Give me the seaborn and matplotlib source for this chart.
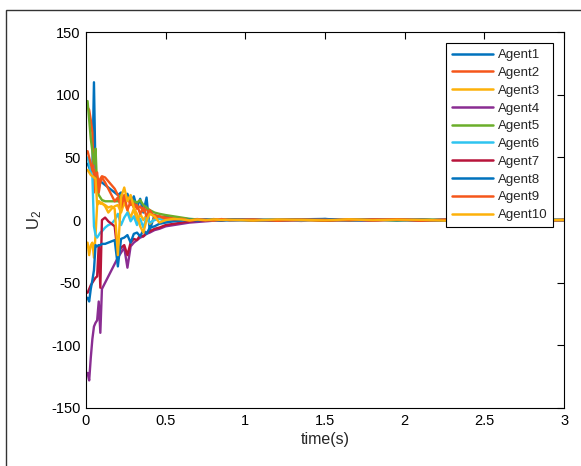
import matplotlib
matplotlib.use("Agg")
import matplotlib.pyplot as plt
from matplotlib.patches import Rectangle
import numpy as np
import pandas as pd
import seaborn as sns

# ---------------- data ----------------
t_early = [0.01, 0.02, 0.03, 0.04, 0.05, 0.06, 0.07, 0.08, 0.09, 0.10,
           0.12, 0.14, 0.16, 0.18, 0.20, 0.22, 0.24, 0.26, 0.28, 0.30,
           0.32, 0.34, 0.36, 0.38, 0.40, 0.43, 0.46, 0.50, 0.55, 0.60,
           0.65, 0.70, 0.75, 0.80, 0.85]
t_tail = [0.9, 1.05, 1.2, 1.35, 1.5, 1.65, 1.8, 1.95, 2.1, 2.25, 2.4, 2.55, 2.7, 2.85, 3.0]

agent1 = [45, 42, 38, 40, 110, 35, 33, 32, 31, 30,
          28, 26, 24, 22, 20, 22, 15, 21, 13, 19,
          10, 17, 6, 18, -8, 4, 2, 3, 1, 1.5,
          0.5, 0.8, 0.2, -0.3, 0.4,
          0.3, -0.5, 0.6, -0.2, 0.8, -0.4, 0.2, 0.5, -0.6, 0.3, -0.2, 0.4, -0.5, 0.2, 0.1]
agent2 = [90, 88, 80, 70, 22, 40, 35, 30, 33, 35,
          34, 31, 28, 25, 20, 17, 14, 18, 12, 14,
          9, 11, 7, 9, 5, 4, 3, 2, 1.5, 1,
          0.6, 0.3, -0.5, 0.8, 0.2,
          -0.4, 0.6, 0.2, -0.7, 0.5, 0.3, -0.3, 0.7, 0.1, -0.5, 0.4, 0.6, -0.2, 0.3, -0.1]
agent3 = [-18, -28, -20, -18, -30, -12, 12, 15, 13, 14,
          11, 6, 9, 11, 12, 6, 14, 8, 2, 9,
          -2, 5, 0, 4, -3, 1, 2, -1, 0.5, 0,
          0.4, -0.6, 0.3, 0.5, -0.2,
          0.2, 0.5, -0.4, 0.3, -0.6, 0.4, 0.1, -0.3, 0.5, 0.2, -0.4, 0.3, 0.6, -0.2, 0.2]
agent4 = [-122, -128, -110, -95, -85, -82, -80, -65, -90, -55,
          -50, -45, -40, -35, -30, -26, -22, -38, -21, -18,
          -16, -14, -13, -11, -10, -8, -7, -5, -4, -3,
          -2, -1.5, -1, -0.5, 0.2,
          -0.3, 0.4, -0.5, 0.2, 0.6, -0.2, -0.4, 0.3, 0.5, -0.6, 0.2, -0.3, 0.4, 0.1, -0.2]
agent5 = [95, 80, 65, 55, 45, 57, 25, 20, 18, 16,
          15, 15, 15, 15, 15, 20, 18, 16, 17, 15,
          14, 16, 12, 10, 8, 6, 5, 4, 3, 2,
          1, 0.5, 0.2, 0.1, -0.2,
          0.5, -0.2, 0.3, 0.6, -0.4, 0.2, 0.5, -0.3, 0.2, 0.4, -0.5, 0.3, 0.2, -0.4, 0.1]
agent6 = [50, 45, 38, 35, -5, -12, -14, -12, -10, -9,
          -6, -4, -3, 0, 5, -4, 2, 6, -1, 3,
          -4, 1, -6, 2, -2, 0, 1, -1, 0.3, 0.5,
          -0.3, 0.2, 0.4, -0.2, 0.1,
          -0.5, 0.3, 0.5, -0.2, 0.4, -0.6, 0.3, 0.2, -0.4, 0.6, -0.1, 0.5, -0.3, 0.4, 0.2]
agent7 = [-58, -55, -52, -50, -48, -46, -45, -20, -54, 0,
          2, -1, -3, -5, -28, -22, -20, -28, -18, -15,
          -16, -12, -13, -10, -9, -7, -6, -4, -3, -2,
          -1, -0.5, -0.3, 0.2, -0.4,
          0.6, -0.3, 0.2, 0.5, -0.5, 0.3, -0.2, 0.7, -0.4, 0.2, 0.5, -0.3, 0.6, -0.2, 0.1]
agent8 = [-62, -65, -55, -48, -40, -20, -21, -20, -20, -19,
          -19, -18, -17, -16, -37, -15, -14, -12, -18, -11,
          -10, -13, -8, -11, -6, -5, -3, -2, -1, -0.5,
          0.3, -0.4, 0.5, 0.2, -0.3,
          0.4, 0.2, -0.5, 0.6, 0.9, -0.3, 0.4, -0.2, 0.3, -0.5, 0.5, 0.2, -0.4, 0.3, 0.0]
agent9 = [55, 50, 45, 40, 38, 36, 38, 22, 30, 34,
          30, 25, 20, 15, 18, 10, 20, 8, 15, 10,
          12, 5, 10, 3, 8, 2, 3, 1, 0.5, 1,
          -0.4, 0.6, 0.3, -0.5, 0.8,
          -0.2, 0.5, -0.6, 0.4, 0.2, -0.3, 0.6, 0.3, -0.5, 0.4, -0.2, 0.5, 0.3, -0.4, 0.2]
agent10 = [40, 38, 36, 35, 34, 33, 12, 15, 14, 13,
           12, 10, 11, 9, -28, 18, 26, 15, 20, 10,
           5, -5, -10, 0, 5, 3, -2, 0, 1, 0.5,
           -0.3, 0.4, -0.2, 0.5, 0.1,
           0.3, -0.4, 0.5, 0.2, -0.3, 0.6, -0.2, 0.4, 0.2, -0.5, 0.3, -0.1, 0.4, 0.2, 0.0]

agent_names = ["Agent1", "Agent2", "Agent3", "Agent4", "Agent5",
               "Agent6", "Agent7", "Agent8", "Agent9", "Agent10"]
agent_values = [agent1, agent2, agent3, agent4, agent5,
                agent6, agent7, agent8, agent9, agent10]

x_ticks = [0, 0.5, 1, 1.5, 2, 2.5, 3]
x_tick_labels = ["0", "0.5", "1", "1.5", "2", "2.5", "3"]
y_ticks = [-150, -100, -50, 0, 50, 100, 150]

colors = ["#0072BD", "#F5561A", "#FDB10A", "#8A2D92", "#6BAE2A",
          "#2EC4F0", "#B8143A", "#0072BD", "#F5561A", "#FDB10A"]

times = t_early + t_tail
rows = []
for name, vals in zip(agent_names, agent_values):
    for t, v in zip(times, vals):
        rows.append({"t": t, "u": v, "agent": name})
df = pd.DataFrame(rows)

# ---------------- style ----------------
sns.set_theme(style="white")
plt.rcParams["font.family"] = ["Liberation Sans", "DejaVu Sans"]
plt.rcParams["mathtext.fontset"] = "custom"
plt.rcParams["mathtext.rm"] = "Liberation Sans"
plt.rcParams["mathtext.it"] = "Liberation Sans"
plt.rcParams["axes.unicode_minus"] = False

fig = plt.figure(figsize=(5.81, 4.66), dpi=100)
fig.patch.set_facecolor("white")
ax = fig.add_axes([0.148, 0.1245, 0.823, 0.8065])

sns.lineplot(data=df, x="t", y="u", hue="agent", hue_order=agent_names,
             palette=colors, estimator=None, sort=False, linewidth=1.7, ax=ax)

ax.set_xlim(0, 3)
ax.set_ylim(-150, 150)
ax.set_xticks(x_ticks)
ax.set_xticklabels(x_tick_labels)
ax.set_yticks(y_ticks)
ax.tick_params(direction="in", top=True, right=True, length=5, width=0.8,
               labelsize=10.5, colors="black", pad=4)
for s in ax.spines.values():
    s.set_color("black")
    s.set_linewidth(0.8)

ax.set_xlabel("time(s)", fontsize=11.5, labelpad=3)
ax.set_ylabel("U$_2$", fontsize=12, labelpad=5)

leg = ax.legend(loc="upper right", bbox_to_anchor=(0.977, 0.971), borderaxespad=0,
                fontsize=9.5, handlelength=3.1, handletextpad=0.35, labelspacing=0.42,
                borderpad=0.45, fancybox=False, framealpha=1, edgecolor="black")
leg.get_frame().set_linewidth(0.8)
for line in leg.get_lines():
    line.set_linewidth(1.8)

fig.patches.append(Rectangle((6 / 581, -0.05), 1.2, (466 - 10) / 466 + 0.05,
                             transform=fig.transFigure, fill=False,
                             edgecolor="#333333", linewidth=1.0))

fig.savefig("out.png", dpi=100)
